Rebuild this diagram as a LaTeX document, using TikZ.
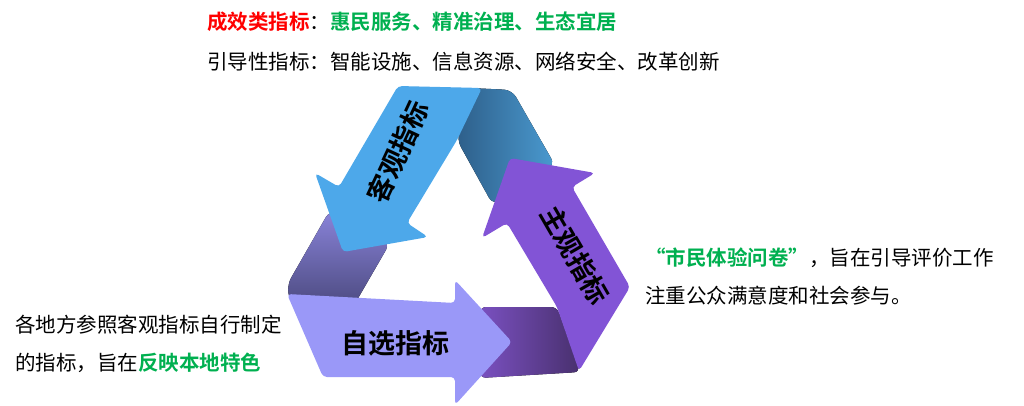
\documentclass[tikz,border=0pt]{standalone}
\usepackage{fontspec}
\setmainfont{Noto Sans CJK SC}
\newfontfamily\cjkb{Noto Sans CJK SC Bold}
\definecolor{blueA}{HTML}{4DA8EA}
\definecolor{blueD}{HTML}{2E5F8A}
\definecolor{blueL}{HTML}{4A9AD0}
\definecolor{vio}{HTML}{8254D6}
\definecolor{vioD}{HTML}{48306E}
\definecolor{vioL}{HTML}{7A50C0}
\definecolor{lil}{HTML}{9A98F8}
\definecolor{lilT}{HTML}{8A84DA}
\definecolor{lilD}{HTML}{4C4A80}
\definecolor{grn}{HTML}{00B050}
\begin{document}
\begin{tikzpicture}[x=1pt,y=-1pt,
  txt/.style={anchor=west,inner sep=0pt,font=\fontsize{20.5}{24}\selectfont},
  lab/.style={inner sep=0pt,font=\fontsize{27}{30}\cjkb}]
\useasboundingbox (0,0) rectangle (1024,406);
% folds
\fill[top color=lilT,bottom color=lilD,rounded corners=8pt] (287,285) -- (330,210) -- (390,243) -- (353,307) -- (290,302) -- cycle;
\fill[left color=blueD,right color=blueL,rounded corners=8pt] (470,88) -- (512,90) -- (555,165) -- (493,205) -- (457,140) -- cycle;
\fill[left color=vioL,right color=vioD,rounded corners=6pt] (480,307) -- (557,307) -- (580,372) -- (480,378) -- cycle;
% blue arrow
\fill[blueA,rounded corners=4pt] (398,86) -- (482,88) -- (457,140) -- (407,223) -- (428,237) -- (343,252) -- (315,173) -- (339,187) -- cycle;
% violet arrow
\fill[vio,rounded corners=4pt] (510,158) -- (595,173) -- (572,187) -- (630,287) -- (579,371) -- (557,307) -- (507,223) -- (482,238) -- cycle;
% lilac arrow
\fill[lil,rounded corners=4pt] (287,294) -- (455,303) -- (455,280) -- (512,342) -- (455,405) -- (455,377) -- (323,377) -- cycle;
% labels
\node[lab,rotate=65] (k) at (398,152) {客观指标};
\node[lab,rotate=-60] (z) at (575,255) {主观指标};
\node[lab] (s) at (395,343) {自选指标};
% texts
\node[txt] (t1) at (207,22) {\textcolor{red}{\cjkb 成效类指标}：\textcolor{grn}{\cjkb 惠民服务、精准治理、生态宜居}};
\node[txt] (t2) at (207,62) {引导性指标：智能设施、信息资源、网络安全、改革创新};
\node[txt] (r1) at (645,258) {\textcolor{grn}{\cjkb “市民体验问卷”}，旨在引导评价工作};
\node[txt] (r2) at (645,296) {注重公众满意度和社会参与。};
\node[txt] (l1) at (15,325) {各地方参照客观指标自行制定};
\node[txt] (l2) at (15,363) {的指标，旨在\textcolor{grn}{\cjkb 反映本地特色}};
\end{tikzpicture}
\end{document}
